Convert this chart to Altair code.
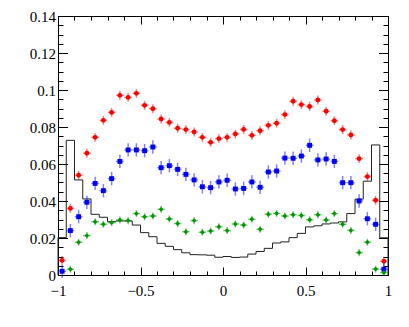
import numpy as np
import pandas as pd
import altair as alt

# ---- binning (40 bins on [-1, 1]) ----
x_min, x_max, n_bins = -1.0, 1.0, 40

# ---- series values (one per bin) ----
red = [0.0079, 0.0360, 0.0539, 0.0658, 0.0744, 0.0836, 0.0879, 0.0971, 0.0960, 0.0982,
       0.0917, 0.0899, 0.0843, 0.0825, 0.0793, 0.0786, 0.0773, 0.0744, 0.0717, 0.0737,
       0.0744, 0.0762, 0.0787, 0.0755, 0.0780, 0.0809, 0.0820, 0.0867, 0.0939, 0.0921,
       0.0911, 0.0946, 0.0885, 0.0834, 0.0786, 0.0757, 0.0629, 0.0532, 0.0404, 0.0074]
blue = [0.0020, 0.0240, 0.0315, 0.0393, 0.0495, 0.0456, 0.0521, 0.0614, 0.0676, 0.0676,
        0.0672, 0.0692, 0.0580, 0.0591, 0.0571, 0.0544, 0.0514, 0.0477, 0.0472, 0.0503,
        0.0512, 0.0465, 0.0468, 0.0503, 0.0474, 0.0557, 0.0562, 0.0632, 0.0631, 0.0643,
        0.0701, 0.0622, 0.0627, 0.0614, 0.0499, 0.0499, 0.0400, 0.0304, 0.0274, 0.0031]
green = [None, 0.0031, 0.0177, 0.0213, 0.0288, 0.0274, 0.0283, 0.0297, 0.0294, 0.0332,
         0.0315, 0.0319, 0.0355, 0.0303, 0.0278, 0.0234, 0.0294, 0.0231, 0.0238, 0.0261,
         0.0240, 0.0276, 0.0270, 0.0301, 0.0247, 0.0328, 0.0333, 0.0319, 0.0326, 0.0322,
         0.0299, 0.0326, 0.0297, 0.0332, 0.0274, 0.0241, 0.0121, 0.0177, 0.0032, 0.0013]
hist = [0.0202, 0.0728, 0.0514, 0.0411, 0.0328, 0.0312, 0.0288, 0.0292, 0.0292, 0.0270,
        0.0229, 0.0207, 0.0171, 0.0155, 0.0137, 0.0120, 0.0110, 0.0109, 0.0107, 0.0096,
        0.0100, 0.0095, 0.0097, 0.0113, 0.0127, 0.0144, 0.0173, 0.0179, 0.0202, 0.0225,
        0.0260, 0.0266, 0.0276, 0.0281, 0.0287, 0.0332, 0.0410, 0.0507, 0.0703, 0.0201]

series_names = ["red", "blue", "green"]
series_colors = ["#ff0000", "#0000ff", "#009900"]
series_shapes = ["circle", "square", "diamond"]
series_sizes = [24, 24, 32]
y_errors = [0.0024, 0.0036, 0.0019]
x_half_err = 0.023

x_major = [-1, -0.5, 0, 0.5, 1]
x_minor = [round(v, 2) for v in np.arange(-1.0, 1.0001, 0.1)]
y_major = [0, 0.02, 0.04, 0.06, 0.08, 0.1, 0.12, 0.14]
y_minor = [round(v, 3) for v in np.arange(0.0, 0.14001, 0.005)]

# ---- tables ----
edges = np.linspace(x_min, x_max, n_bins + 1)
centers = (edges[:-1] + edges[1:]) / 2

rows = []
for name, vals, err in zip(series_names, [red, blue, green], y_errors):
    for c, v in zip(centers, vals):
        if v is None:
            continue
        rows.append(dict(series=name, x=c, y=v, ylo=v - err, yhi=v + err,
                         xlo=c - x_half_err, xhi=c + x_half_err))
pts = pd.DataFrame(rows)

hx = [x_min] + list(edges[:-1]) + [x_max, x_max]
hy = [0.0] + hist + [hist[-1], 0.0]
hdf = pd.DataFrame({"x": hx, "y": hy, "i": range(len(hx))})

FONT = "Liberation Serif"
xs = alt.Scale(domain=[x_min, x_max], nice=False, zero=False)
ys = alt.Scale(domain=[0, 0.14], nice=False, zero=False)
color = alt.Color("series:N", scale=alt.Scale(domain=series_names, range=series_colors), legend=None)


def axis(orient, values, size, labels=False, pad=0):
    kw = dict(orient=orient, values=values, tickSize={"expr": str(-size)}, labels=labels,
              domain=False, grid=False, title=None, ticks=True, tickColor="black",
              tickWidth=1)
    if labels:
        kw.update(labelPadding=pad, labelFont=FONT, labelFontSize=15, labelColor="black",
                  format="~g", labelFlush=False, labelOverlap=False, labelBound=False)
    return alt.Axis(**kw)


hist_layer = alt.Chart(hdf).mark_line(interpolate="step-after", color="#222222", strokeWidth=1).encode(
    x=alt.X("x:Q", scale=xs, axis=axis("bottom", x_major, 8, True, 16)),
    y=alt.Y("y:Q", scale=ys, axis=axis("left", y_major, 9.5, True, 12)),
    order="i:Q",
)

xerr_layer = alt.Chart(pts).mark_rule(strokeWidth=1.5, opacity=0.5).encode(
    x=alt.X("xlo:Q", scale=xs, axis=axis("bottom", x_minor, 4)),
    x2="xhi:Q",
    y=alt.Y("y:Q", scale=ys, axis=axis("left", y_minor, 5)),
    color=color,
)

yerr_layer = alt.Chart(pts).mark_rule(strokeWidth=1.5, opacity=0.5).encode(
    x=alt.X("x:Q", scale=xs, axis=axis("top", x_major, 8)),
    y=alt.Y("ylo:Q", scale=ys, axis=axis("right", y_major, 9.5)),
    y2="yhi:Q",
    color=color,
)

pt_layer = alt.Chart(pts).mark_point(filled=True, opacity=1).encode(
    x=alt.X("x:Q", scale=xs, axis=axis("top", x_minor, 4)),
    y=alt.Y("y:Q", scale=ys, axis=axis("right", y_minor, 5)),
    color=color,
    shape=alt.Shape("series:N", scale=alt.Scale(domain=series_names, range=series_shapes), legend=None),
    size=alt.Size("series:N", scale=alt.Scale(domain=series_names, range=series_sizes), legend=None),
)

chart = alt.layer(hist_layer, xerr_layer, yerr_layer, pt_layer).resolve_axis(
    x="independent", y="independent"
).properties(
    width=330, height=259,
    autosize=alt.AutoSizeParams(type="none"),
    padding={"left": 50, "top": 8, "right": 12, "bottom": 40},
    background="white",
).configure_view(stroke="black", strokeWidth=1)

chart.save("out.html", embed_options={"renderer": "svg", "actions": False})
